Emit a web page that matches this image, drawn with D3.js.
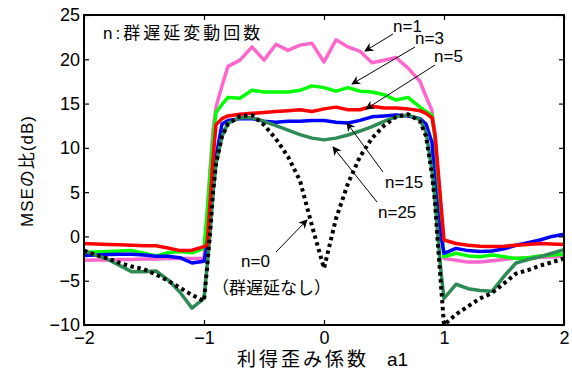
<!DOCTYPE html>
<html>
<head>
<meta charset="utf-8">
<script src="https://cdn.jsdelivr.net/npm/d3@7"></script>
<style>
  body { margin: 0; background: #fff; }
  text { font-family: "Liberation Sans", "Noto Sans CJK JP", sans-serif; }
</style>
</head>
<body>
<div id="chart"></div>
<script>
// a1 sample points (finer near the edges at +-1)
const xs = [-2, -1.9, -1.8, -1.7, -1.6, -1.5, -1.4, -1.3, -1.2, -1.1, -1.0,
  -0.975, -0.95, -0.925, -0.9, -0.85,
  -0.8, -0.7, -0.6, -0.5, -0.4, -0.3, -0.2, -0.1, 0, 0.1, 0.2, 0.3, 0.4, 0.5, 0.6, 0.7, 0.8,
  0.85, 0.9, 0.925, 0.95, 0.975,
  1.0, 1.1, 1.2, 1.3, 1.4, 1.5, 1.6, 1.7, 1.8, 1.9, 2.0];

const n1 = [-2.7, -2.65, -2.65, -2.6, -2.6, -2.55, -2.55, -2.5, -2.5, -2.5, -2.5,
  2.0, 7.5, 12.0, 14.6, 17.0,
  19.2, 19.9, 21.4, 19.9, 21.7, 21.0, 21.6, 21.8, 19.7, 22.2, 21.4, 20.9, 19.6, 19.9, 20.2, 19.0, 17.5,
  15.8, 14.2, 11.5, 7.0, 2.3,
  -2.5, -2.7, -2.9, -2.9, -2.75, -2.6, -2.45, -2.4, -2.35, -2.3, -2.25];

const n3 = [-1.8, -1.75, -1.7, -1.65, -1.6, -1.9, -2.2, -1.85, -1.7, -1.85, -1.35,
  2.5, 6.8, 11.0, 14.0, 14.9,
  15.7, 15.6, 16.5, 16.3, 16.3, 16.3, 16.5, 17.0, 16.8, 16.4, 16.8, 16.4, 16.3, 16.0, 15.4, 15.7, 14.6,
  14.1, 13.7, 11.0, 6.5, 2.0,
  -2.3, -1.9, -2.2, -2.3, -2.1, -2.3, -2.5, -2.4, -2.2, -2.1, -2.0];

const n5 = [-0.8, -0.85, -0.9, -0.95, -1.0, -1.05, -1.05, -1.3, -1.6, -1.55, -1.15,
  -1.0, 3.8, 8.7, 12.6, 13.3,
  13.6, 13.8, 13.9, 14.0, 14.1, 14.2, 14.3, 14.1, 14.4, 14.6, 14.3, 14.3, 14.7, 14.5, 14.5, 14.4, 14.2,
  13.9, 13.4, 11.5, 7.6, 3.6,
  -0.4, -0.8, -1.0, -1.1, -1.15, -1.1, -1.0, -0.9, -0.8, -0.85, -0.9];

const n15 = [-2.15, -2.1, -2.05, -2.0, -2.0, -2.1, -2.25, -2.25, -2.4, -3.0, -2.8,
  -1.0, 1.5, 5.0, 9.0, 12.7,
  13.1, 13.3, 13.3, 13.0, 12.9, 13.0, 13.0, 13.1, 13.1, 12.9, 12.8, 13.1, 13.5, 13.6, 13.7, 13.6, 13.3,
  12.7, 10.6, 6.0, 2.5, 0.0,
  -1.9, -1.35, -1.6, -1.7, -1.65, -1.4, -1.0, -0.7, -0.4, 0.0, 0.25];

const n25 = [-1.6, -2.1, -2.6, -3.3, -4.0, -4.0, -3.9, -4.9, -6.3, -8.1, -7.0,
  -3.5, 0.3, 5.0, 8.2, 11.3,
  12.8, 13.4, 13.4, 13.0, 12.5, 12.0, 11.5, 11.1, 10.9, 11.1, 11.45, 11.9, 12.4, 13.0, 13.5, 13.7, 13.2,
  11.8, 7.5, 4.2, 0.0, -4.0,
  -7.0, -5.4, -5.9, -6.1, -6.2, -4.5, -3.0, -2.6, -2.3, -1.9, -1.5];

const n0 = [-1.6, -2.1, -2.5, -3.0, -3.4, -3.7, -4.3, -5.0, -5.8, -6.6, -7.3,
  -3.6, 0.3, 5.0, 8.2, 11.3,
  12.7, 13.6, 13.7, 12.6, 11.0, 9.0, 6.3, 1.2, -3.6, 2.0, 6.0, 9.0, 11.1, 12.5, 13.5, 13.8, 13.0,
  11.3, 7.0, 3.8, -1.0, -5.5,
  -10.0, -8.8, -7.9, -7.0, -6.4, -5.3, -4.2, -3.8, -3.3, -2.9, -2.5];

const xTicks = [-2, -1, 0, 1, 2];
const yTicks = [-10, -5, 0, 5, 10, 15, 20, 25];

// drawing order: bottom first
const seriesList = [
  { name: "n=1", values: n1, color: "#ff66cc", dash: null },
  { name: "n=3", values: n3, color: "#00ff00", dash: null },
  { name: "n=15", values: n15, color: "#0000ff", dash: null },
  { name: "n=25", values: n25, color: "#2e8b57", dash: null },
  { name: "n=5", values: n5, color: "#ff0000", dash: null },
  { name: "n=0", values: n0, color: "#000000", dash: "3.5,3.5" }
];

// label text, label position, arrow from -> to
const notes = [
  { text: "n=1", x: 393, y: 32, from: [393, 34], to: [365, 51] },
  { text: "n=3", x: 415, y: 44, from: [415, 47], to: [352, 84] },
  { text: "n=5", x: 434, y: 62, from: [435, 65], to: [366, 109] },
  { text: "n=15", x: 385, y: 188, from: [383, 172], to: [347, 123] },
  { text: "n=25", x: 378, y: 218, from: [377, 202], to: [333, 147] },
  { text: "n=0", x: 241, y: 267, from: [276, 252], to: [307, 220] }
];

const W = 572, H = 371;
const margin = { top: 15, right: 8, bottom: 46, left: 84 };
const pw = W - margin.left - margin.right;
const ph = H - margin.top - margin.bottom;

const svg = d3.select("#chart").append("svg")
  .attr("width", W).attr("height", H);

const defs = svg.append("defs");
defs.append("clipPath").attr("id", "plotclip")
  .append("rect").attr("width", pw).attr("height", ph + 2).attr("y", -1);
defs.append("marker")
  .attr("id", "arrow")
  .attr("viewBox", "0 0 10 10")
  .attr("refX", 9).attr("refY", 5)
  .attr("markerWidth", 9).attr("markerHeight", 9)
  .attr("markerUnits", "userSpaceOnUse")
  .attr("orient", "auto")
  .append("path")
  .attr("d", "M0,0 L10,5 L0,10 L3,5 Z")
  .attr("fill", "#000");

const g = svg.append("g")
  .attr("transform", `translate(${margin.left},${margin.top})`);

const x = d3.scaleLinear().domain([-2, 2]).range([0, pw]);
const y = d3.scaleLinear().domain([-10, 25]).range([ph, 0]);

// series lines
const line = d3.line()
  .x((d, i) => x(xs[i]))
  .y(d => y(d));

const plot = g.append("g").attr("clip-path", "url(#plotclip)");
seriesList.forEach(s => {
  plot.append("path")
    .datum(s.values)
    .attr("fill", "none")
    .attr("stroke", s.color)
    .attr("stroke-width", s.dash ? 4 : 3.5)
    .attr("stroke-linejoin", "round")
    .attr("stroke-dasharray", s.dash)
    .attr("d", line);
});

// axes, matlab style: ticks inside on all four sides
const tickLen = 5;
const axisBottom = g.append("g")
  .attr("transform", `translate(0,${ph})`)
  .call(d3.axisBottom(x).tickValues(xTicks).tickSize(-tickLen).tickPadding(5)
    .tickFormat(d3.format("d")));
const axisTop = g.append("g")
  .call(d3.axisTop(x).tickValues(xTicks).tickSize(-tickLen).tickFormat(""));
const axisLeft = g.append("g")
  .call(d3.axisLeft(y).tickValues(yTicks).tickSize(-tickLen).tickPadding(4)
    .tickFormat(d3.format("d")));
const axisRight = g.append("g")
  .attr("transform", `translate(${pw},0)`)
  .call(d3.axisRight(y).tickValues(yTicks).tickSize(-tickLen).tickFormat(""));

[axisBottom, axisTop, axisLeft, axisRight].forEach(a => {
  a.select(".domain").remove();
  a.selectAll("line").attr("stroke", "#000").attr("stroke-width", 1.2);
  a.selectAll("text").attr("fill", "#000").style("font-size", "18px");
});
axisBottom.selectAll("text").attr("dy", "0.8em");
axisLeft.selectAll("text").attr("dy", "0.33em");

g.append("rect")
  .attr("width", pw).attr("height", ph)
  .attr("fill", "none").attr("stroke", "#000").attr("stroke-width", 2);

// annotations
g.append("text")
  .attr("x", 103 - margin.left).attr("y", 39 - margin.top)
  .style("font-size", "17px")
  .style("letter-spacing", "3px")
  .text("n:群遅延変動回数");

notes.forEach(n => {
  svg.append("line")
    .attr("x1", n.from[0]).attr("y1", n.from[1])
    .attr("x2", n.to[0]).attr("y2", n.to[1])
    .attr("stroke", "#000").attr("stroke-width", 1)
    .attr("marker-end", "url(#arrow)");
  svg.append("text")
    .attr("x", n.x).attr("y", n.y)
    .style("font-size", "17px")
    .text(n.text);
});
svg.append("text")
  .attr("x", 212).attr("y", 294)
  .style("font-size", "17px")
  .text("（群遅延なし）");

// axis titles
svg.append("text")
  .attr("x", 237).attr("y", 366)
  .style("font-size", "19px")
  .style("letter-spacing", "3px")
  .text("利得歪み係数");
svg.append("text")
  .attr("x", 387).attr("y", 366)
  .style("font-size", "19px")
  .text("a1");

svg.append("text")
  .attr("transform", `translate(33,171) rotate(-90)`)
  .attr("text-anchor", "middle")
  .style("font-size", "17px")
  .style("letter-spacing", "1px")
  .text("MSEの比(dB)");
</script>
</body>
</html>
